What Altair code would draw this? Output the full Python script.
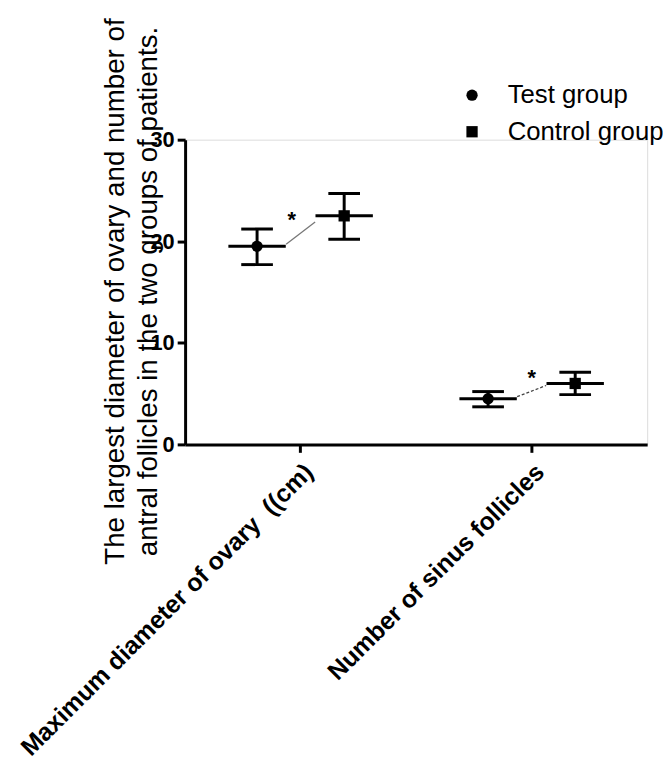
import altair as alt
import pandas as pd

# ---- data ----
categories = ["Maximum diameter of ovary\u00a0 ((cm)", "Number of sinus follicles"]
groups = ["Test group", "Control group"]
test_mean = [19.5, 4.5]
test_low = [17.7, 3.7]
test_high = [21.2, 5.2]
control_mean = [22.5, 6.0]
control_low = [20.2, 4.9]
control_high = [24.7, 7.1]
# significance connector (start at test side, end at control side)
sig_start = [19.7, 4.7]
sig_end = [21.9, 5.8]
sig_label_y = [22.6, 7.0]
sig_text = ["*", "*"]

rows = []
for i, c in enumerate(categories):
    rows.append(dict(cat=c, group=groups[0], mean=test_mean[i], low=test_low[i], high=test_high[i]))
    rows.append(dict(cat=c, group=groups[1], mean=control_mean[i], low=control_low[i], high=control_high[i]))
df = pd.DataFrame(rows)

sig_rows = []
for i, c in enumerate(categories):
    sig_rows.append(dict(cat=c, pos="start", value=sig_start[i], idx=i))
    sig_rows.append(dict(cat=c, pos="end", value=sig_end[i], idx=i))
sig_df = pd.DataFrame(sig_rows)
star_df = pd.DataFrame(dict(cat=categories, value=sig_label_y, text=sig_text))

FONT = "Liberation Sans"
offset_domain = ["Test group", "start", "end", "Control group"]

x_enc = alt.X(
    "cat:N",
    scale=alt.Scale(domain=categories, paddingInner=0.246, paddingOuter=0.123),
    axis=alt.Axis(
        title=None, labelAngle=-45, labelAlign="right", labelBaseline="top",
        labelFont=FONT, labelFontSize=25, labelFontWeight="bold", labelColor="black",
        labelLimit=800, labelPadding=7, labelOffset=0, tickSize=8, tickWidth=3, tickColor="black",
        domainWidth=3, domainColor="black", grid=False,
    ),
)
xo_scale = alt.Scale(domain=offset_domain, paddingInner=0, paddingOuter=1)
xo_enc = alt.XOffset("group:N", scale=xo_scale)
y_scale = alt.Scale(domain=[0, 30], nice=False)
y_axis = alt.Axis(
    title=["The largest diameter of ovary and number of",
           "antral follicles in the two groups of patients."],
    titleFont=FONT, titleFontSize=28, titleFontWeight="normal", titleColor="black",
    titleAngle=-90, titleAlign="center", titleBaseline="alphabetic",
    titleLineHeight=33, titleX=-62, titleY=153,
    values=[0, 10, 20, 30], labelFont=FONT, labelFontSize=22, labelFontWeight="bold",
    labelColor="black", labelPadding=3, tickSize=8, tickWidth=3, tickColor="black",
    domainWidth=3, domainColor="black", grid=False,
)

base = alt.Chart(df)

rule = base.mark_rule(color="black", strokeWidth=3, opacity=1).encode(
    x=x_enc, xOffset=xo_enc,
    y=alt.Y("low:Q", scale=y_scale, axis=y_axis), y2="high:Q",
)
cap_low = base.mark_tick(color="black", size=32, thickness=3, opacity=1).encode(
    x=x_enc, xOffset=xo_enc, y=alt.Y("low:Q", scale=y_scale))
cap_high = base.mark_tick(color="black", size=32, thickness=3, opacity=1).encode(
    x=x_enc, xOffset=xo_enc, y=alt.Y("high:Q", scale=y_scale))
mean_bar = base.mark_tick(color="black", size=58, thickness=3, opacity=1).encode(
    x=x_enc, xOffset=xo_enc, y=alt.Y("mean:Q", scale=y_scale))
points = base.mark_point(filled=True, color="black", opacity=1, size=130).encode(
    x=x_enc, xOffset=xo_enc, y=alt.Y("mean:Q", scale=y_scale),
    shape=alt.Shape(
        "group:N",
        scale=alt.Scale(domain=groups, range=["circle", "square"]),
        legend=alt.Legend(
            title=None, orient="none", legendX=277, legendY=-58,
            labelFont=FONT, labelFontSize=26, labelColor="black",
            symbolSize=130, symbolFillColor="black", symbolStrokeColor="black",
            symbolOpacity=1, labelOffset=23, rowPadding=11,
        ),
    ),
)

sig_xo = alt.XOffset("pos:N", scale=xo_scale)
sig1 = alt.Chart(sig_df).transform_filter(alt.datum.idx == 0).mark_line(
    color="#777777", strokeWidth=1.3).encode(
    x=x_enc, xOffset=sig_xo, y=alt.Y("value:Q", scale=y_scale), detail="cat:N")
sig2 = alt.Chart(sig_df).transform_filter(alt.datum.idx == 1).mark_line(
    color="#444444", strokeWidth=1.3, strokeDash=[3, 2]).encode(
    x=x_enc, xOffset=sig_xo, y=alt.Y("value:Q", scale=y_scale), detail="cat:N")

star1 = alt.Chart(star_df).transform_filter(alt.datum.cat == categories[0]).mark_text(
    font=FONT, fontSize=22, fontWeight="bold", color="black", baseline="middle", dx=-9, dy=5
).encode(x=x_enc, y=alt.Y("value:Q", scale=y_scale), text="text:N")
star2 = alt.Chart(star_df).transform_filter(alt.datum.cat == categories[1]).mark_text(
    font=FONT, fontSize=22, fontWeight="bold", color="black", baseline="middle", dx=0, dy=5
).encode(x=x_enc, y=alt.Y("value:Q", scale=y_scale), text="text:N")

chart = alt.layer(rule, cap_low, cap_high, mean_bar, sig1, sig2, points, star1, star2).properties(
    width=467, height=308,
    autosize=alt.AutoSizeParams(type="none"),
    padding={"left": 179, "top": 129, "right": 16, "bottom": 325},
).configure_view(strokeWidth=0, stroke="transparent").configure(background="white")

chart.save("out.html", embed_options={"renderer": "svg", "actions": False})
